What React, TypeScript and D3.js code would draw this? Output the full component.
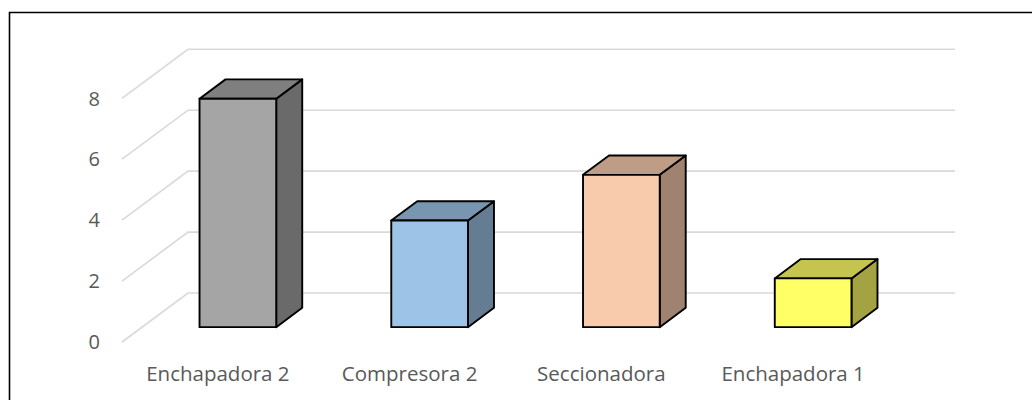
import React from "react";
import * as d3 from "d3";

// Machines and their values
const categories = ["Enchapadora 2", "Compresora 2", "Seccionadora", "Enchapadora 1"];
const values = [7.5, 3.5, 5, 1.6];
const barColors = ["#A5A5A5", "#9DC3E6", "#F8CBAD", "#FFFF66"];
const tickValues = [0, 2, 4, 6, 8];

const W = 1032;
const H = 400;

// Oblique projection of the depth axis
const DEPTH_DX = 66;
const DEPTH_DY = -49;
const BAR_FRONT = 0.303; // depth fraction where bar front face sits
const BAR_BACK = 0.697; // depth fraction of bar back face

const FLOOR_LEFT = 122;
const FLOOR_RIGHT = 889;

const FONT = "'Open Sans', 'Noto Sans', sans-serif";
const TEXT_COLOR = "#595959";
const GRID_COLOR = "#D9D9D9";

function shade(c: string, k: number) {
  const r = d3.rgb(c);
  return d3.rgb(r.r * k, r.g * k, r.b * k).formatHex();
}

export default function App() {
  const y = d3.scaleLinear().domain([0, 8]).range([342, 98.3]);
  const x = d3
    .scaleBand<string>()
    .domain(categories)
    .range([FLOOR_LEFT, FLOOR_RIGHT])
    .paddingInner(0.6)
    .paddingOuter(0.3);

  const depth = (f: number) => [DEPTH_DX * f, DEPTH_DY * f];
  const [fdx, fdy] = depth(BAR_FRONT);
  const [bdx, bdy] = depth(BAR_BACK);
  const ddx = bdx - fdx;
  const ddy = bdy - fdy;

  const line = d3.line();

  return (
    <svg
      width={W}
      height={H}
      style={{ position: "absolute", left: 0, top: 0, background: "#fff" }}
    >
      <rect x={0} y={0} width={W} height={H} fill="#fff" />
      {/* frame */}
      <path d={`M9.5,${H + 2}V12.5H${W + 2}`} fill="none" stroke="#000" strokeWidth={1.6} />

      {/* side wall and back wall grid */}
      {tickValues.map((v) => {
        const y0 = y(v);
        const pts: [number, number][] = [
          [FLOOR_LEFT, y0],
          [FLOOR_LEFT + DEPTH_DX, y0 + DEPTH_DY],
          [FLOOR_RIGHT + DEPTH_DX, y0 + DEPTH_DY],
        ];
        return (
          <path
            key={v}
            d={line(pts) || ""}
            fill="none"
            stroke={GRID_COLOR}
            strokeWidth={1.6}
          />
        );
      })}

      {/* value axis labels */}
      {tickValues.map((v) => (
        <text
          key={"t" + v}
          x={100}
          y={y(v)}
          dy="0.36em"
          textAnchor="end"
          fontFamily={FONT}
          fontSize={20}
          fill={TEXT_COLOR}
        >
          {v}
        </text>
      ))}

      {/* 3D bars */}
      {categories.map((c, i) => {
        const x0 = (x(c) as number) + fdx;
        const w = x.bandwidth();
        const yb = y(0) + fdy;
        const yt = y(values[i]) + fdy;
        const col = barColors[i];
        const top: [number, number][] = [
          [x0, yt],
          [x0 + ddx, yt + ddy],
          [x0 + w + ddx, yt + ddy],
          [x0 + w, yt],
        ];
        const side: [number, number][] = [
          [x0 + w, yt],
          [x0 + w + ddx, yt + ddy],
          [x0 + w + ddx, yb + ddy],
          [x0 + w, yb],
        ];
        return (
          <g key={c} stroke="#000" strokeWidth={1.9} strokeLinejoin="round">
            <path d={(line(side) || "") + "Z"} fill={shade(col, 0.64)} />
            <path d={(line(top) || "") + "Z"} fill={shade(col, 0.77)} />
            <rect x={x0} y={yt} width={w} height={yb - yt} fill={col} />
          </g>
        );
      })}

      {/* category labels */}
      {categories.map((c) => (
        <text
          key={"c" + c}
          x={(x(c) as number) + x.bandwidth() / 2}
          y={381}
          textAnchor="middle"
          fontFamily={FONT}
          fontSize={20.5}
          fill={TEXT_COLOR}
        >
          {c}
        </text>
      ))}
    </svg>
  );
}
